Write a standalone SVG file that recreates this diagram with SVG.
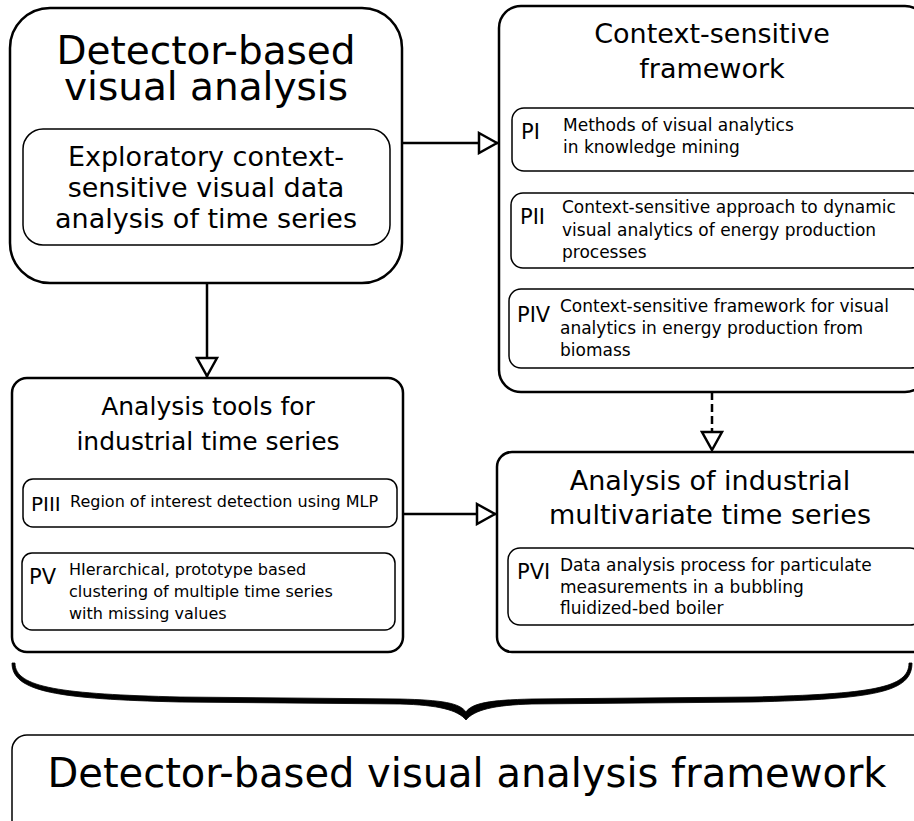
<svg xmlns="http://www.w3.org/2000/svg" width="914" height="821" viewBox="0 0 914 821">
<defs>
<style>
text{font-family:"DejaVu Sans","Liberation Sans",sans-serif;fill:#000}
.outer{fill:#fff;stroke:#000;stroke-width:2.5}
.inner{fill:#fff;stroke:#000;stroke-width:1.5}
.conn{stroke:#000;stroke-width:2.5;fill:none}
.big{font-size:40px;text-anchor:middle}
.title{font-size:27px;text-anchor:middle}
.title25{font-size:25px;text-anchor:middle}
.tag{font-size:21px}
.desc{font-size:17px}
.desc16{font-size:16px}
</style>
<marker id="tri" markerUnits="userSpaceOnUse" viewBox="0 0 22 24" refX="21" refY="12" markerWidth="22" markerHeight="24" orient="auto">
<path d="M2,2 L20,12 L2,22 Z" fill="#fff" stroke="#000" stroke-width="2.5" stroke-dasharray="none"/>
</marker>
</defs>
<rect width="914" height="821" fill="#fff"/>

<g id="connectors">
<line class="conn" x1="402" y1="143" x2="498" y2="143" marker-end="url(#tri)"/>
<line class="conn" x1="207" y1="283" x2="207" y2="377" marker-end="url(#tri)"/>
<line class="conn" x1="712" y1="392" x2="712" y2="451" stroke-dasharray="8,4" marker-end="url(#tri)"/>
<line class="conn" x1="403" y1="514" x2="496" y2="514" marker-end="url(#tri)"/>
</g>

<g id="detector-based">
<rect class="outer" x="10" y="8" width="392" height="275" rx="40" stroke-width="3"/>
<text class="big" style="font-size:39px"><tspan x="206" y="64">Detector-based</tspan><tspan x="206" y="100">visual analysis</tspan></text>
<rect class="inner" x="23" y="129" width="367" height="116" rx="20"/>
<text class="title" x="206" y="166">Exploratory context-</text>
<text class="title" x="206" y="197">sensitive visual data</text>
<text class="title" x="206" y="228">analysis of time series</text>
</g>

<g id="context-sensitive">
<rect class="outer" x="499" y="6" width="428" height="386" rx="22"/>
<text class="title" x="712" y="43">Context-sensitive</text>
<text class="title" x="712" y="78">framework</text>
<rect class="inner" x="512" y="108" width="412" height="63" rx="12"/>
<text class="tag" x="521" y="139">PI</text>
<text class="desc" x="563" y="131">Methods of visual analytics</text>
<text class="desc" x="563" y="153">in knowledge mining</text>
<rect class="inner" x="511" y="193" width="412" height="75" rx="12"/>
<text class="tag" x="520" y="224">PII</text>
<text class="desc" x="562" y="213">Context-sensitive approach to dynamic</text>
<text class="desc" x="562" y="236">visual analytics of energy production</text>
<text class="desc" x="562" y="258">processes</text>
<rect class="inner" x="509" y="289" width="414" height="79" rx="12"/>
<text class="tag" x="517" y="322">PIV</text>
<text class="desc" x="560" y="312">Context-sensitive framework for visual</text>
<text class="desc" x="560" y="334">analytics in energy production from</text>
<text class="desc" x="560" y="356">biomass</text>
</g>

<g id="analysis-tools">
<rect class="outer" x="12" y="378" width="391" height="274" rx="15" stroke-width="2"/>
<text class="title25" x="208" y="415">Analysis tools for</text>
<text class="title25" x="208" y="450">industrial time series</text>
<rect class="inner" x="23" y="479" width="374" height="48" rx="10"/>
<text class="tag" x="31" y="511" style="font-size:20px">PIII</text>
<text class="desc16" x="70" y="507">Region of interest detection using MLP</text>
<rect class="inner" x="22" y="553" width="373" height="77" rx="10"/>
<text class="tag" x="29" y="584">PV</text>
<text class="desc16" x="69" y="575">HIerarchical, prototype based</text>
<text class="desc16" x="69" y="597">clustering of multiple time series</text>
<text class="desc16" x="69" y="619">with missing values</text>
</g>

<g id="industrial-multivariate">
<rect class="outer" x="497" y="452" width="430" height="200" rx="15" stroke-width="2"/>
<text class="title" x="710" y="490">Analysis of industrial</text>
<text class="title" x="710" y="524">multivariate time series</text>
<rect class="inner" x="508" y="548" width="414" height="77" rx="12"/>
<text class="tag" x="517" y="579">PVI</text>
<text class="desc" x="560" y="571">Data analysis process for particulate</text>
<text class="desc" x="560" y="593">measurements in a bubbling</text>
<text class="desc" x="560" y="614">fluidized-bed boiler</text>
</g>

<g id="brace">
<path d="M12,663 C12,692 58,699 180,702 L400,704 C438,705 458,710 466,720 C474,710 494,705 532,704 L752,702 C876,699 912,692 912,663 L909,663 C909,688 872,694 752,697 L532,699 C490,700 472,703 466,712 C460,703 442,700 400,699 L180,697 C62,694 15,688 15,663 Z" fill="#000" stroke="#000" stroke-width="0.8" stroke-linejoin="round"/>
</g>

<g id="framework">
<rect class="inner" x="12" y="735" width="930" height="110" rx="15"/>
<text class="big" x="467" y="787">Detector-based visual analysis framework</text>
</g>
</svg>
